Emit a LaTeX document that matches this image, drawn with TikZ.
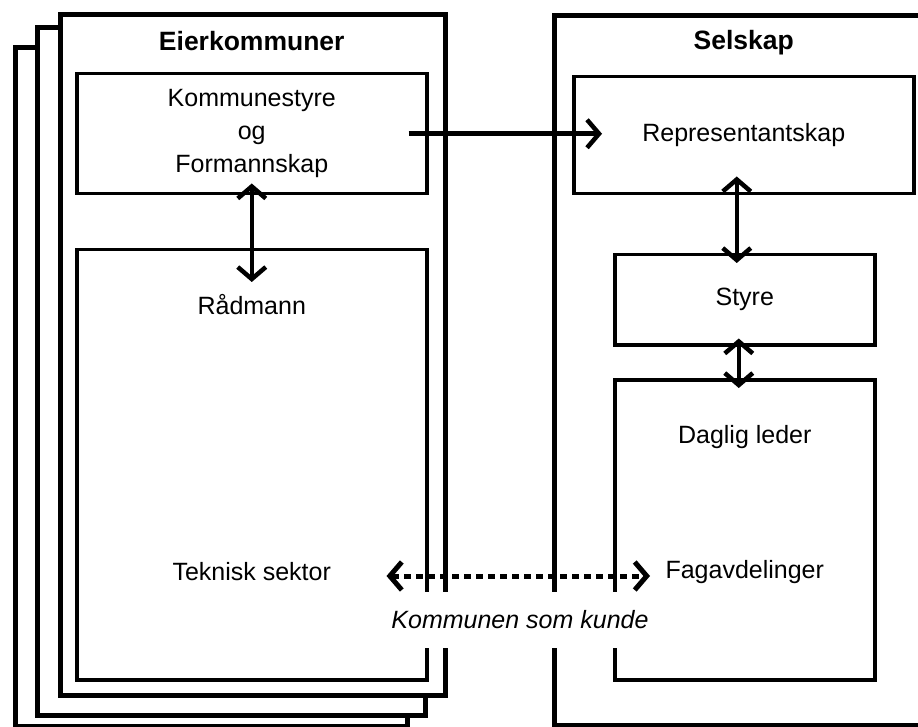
\documentclass[tikz,border=0pt]{standalone}
\usepackage{fontspec}
\setmainfont{Liberation Sans}
\usetikzlibrary{arrows.meta,positioning,calc}
\tikzset{
  frame/.style={draw, line width=5pt, fill=white, anchor=north west, inner sep=0pt},
  unitbox/.style={draw, line width=3.5pt, fill=white, anchor=north west, inner sep=0pt},
  boxtext/.style={font=\fontsize{25}{33}\selectfont, align=center, inner sep=0pt},
  headtext/.style={font=\fontsize{26.5}{30}\selectfont\bfseries, inner sep=0pt},
  flowarrow/.style={-{Straight Barb[length=12pt,width=28pt]}, line width=4.5pt},
  twoarrow/.style={{Straight Barb[length=12pt,width=28pt]}-{Straight Barb[length=12pt,width=28pt]}, line width=4.5pt},
  kundearrow/.style={twoarrow, line width=5pt, dash pattern=on 7pt off 5pt},
  kundenote/.style={font=\fontsize{25}{28}\selectfont\itshape, fill=white, minimum height=56pt, inner xsep=2pt}
}

\begin{document}
\begin{tikzpicture}[x=1pt, y=-1pt]
    \useasboundingbox (0,0) rectangle (918,727);
    \clip (0,0) rectangle (918,727);

    % eierkommuner, stacked
    \node[frame, minimum width=392pt, minimum height=679pt] (back3) at (13,45) {};
    \node[frame, minimum width=388pt, minimum height=688pt] (back2) at (35,25) {};
    \node[frame, minimum width=385pt, minimum height=681pt] (eier) at (58,12) {};
    \node[unitbox, boxtext, minimum width=350pt, minimum height=120pt] (kstyre) at (75,72) {Kommunestyre\\og\\Formannskap};
    \node[unitbox, minimum width=350pt, minimum height=430pt] (radbox) at (75,248) {};
    \node[headtext] (eiertitle) at ($(kstyre.north)+(0,-31)$) {Eierkommuner};
    \node[boxtext] (radmann) at ($(radbox.north)+(0,57)$) {Rådmann};
    \node[boxtext] (teknisk) at ($(radbox.north)+(0,324)$) {Teknisk sektor};

    % selskap
    \node[frame, minimum width=400pt, minimum height=710pt] (selskap) at (552,13) {};
    \node[unitbox, boxtext, minimum width=340pt, minimum height=117pt] (repr) at (572,75) {Representantskap};
    \node[unitbox, boxtext, minimum width=260pt, minimum height=90pt] (styre) at (613,253) {Styre};
    \node[unitbox, minimum width=260pt, minimum height=300pt] (daglig) at (613,378) {};
    \node[headtext] (selskaptitle) at ($(repr.north)+(0,-32)$) {Selskap};
    \node[boxtext] (leder) at ($(daglig.north)+(0,59)$) {Daglig leder};
    \node[boxtext] (fag) at ($(daglig.north)+(0,194)$) {Fagavdelinger};

    \node[kundenote] (kunde) at (520,620) {Kommunen som kunde};

    \draw[flowarrow] ([xshift=-20pt]kstyre.east) -- ([xshift=30pt]kstyre.east -| repr.west);
    \draw[twoarrow] ([yshift=12pt]kstyre.south) -- ([yshift=-34pt]radbox.north);
    \draw[twoarrow] ([xshift=-7pt,yshift=19pt]repr.south) -- ([xshift=-8pt,yshift=-10pt]styre.north);
    \draw[twoarrow] ([xshift=-6pt,yshift=8pt]styre.south) -- ([xshift=-6pt,yshift=-10pt]daglig.north);
    \draw[kundearrow] ($(teknisk -| radbox.east)+(-42,4)$) -- ($(teknisk -| daglig.west)+(37,4)$);
\end{tikzpicture}
\end{document}
